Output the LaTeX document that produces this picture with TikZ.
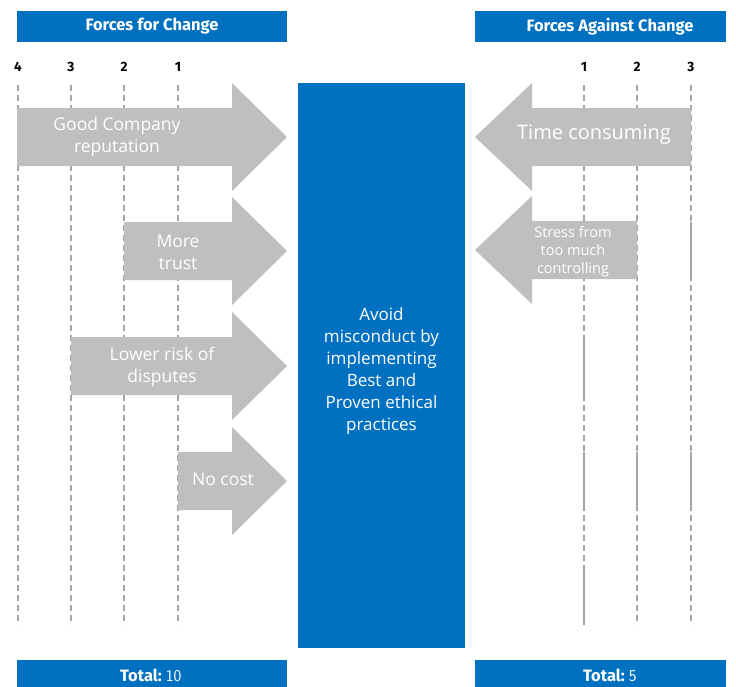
\documentclass[tikz,border=0pt]{standalone}
\usepackage{fontspec}
\setmainfont{Open Sans}
\newfontfamily\headfont{Fira Sans}
\definecolor{fieldblue}{RGB}{0,112,192}
\definecolor{forcegray}{RGB}{191,191,191}
\definecolor{scalegray}{RGB}{165,165,165}

% grey force arrow: tail x, centre y, start of head x, tip x
\newcommand{\forcearrow}[4]{%
  \fill[forcegray] (#1,#2-29) -- (#3,#2-29) -- (#3,#2-54) -- (#4,#2)
    -- (#3,#2+54) -- (#3,#2+29) -- (#1,#2+29) -- cycle;}

\begin{document}
\begin{tikzpicture}[
    x=1pt,y=-1pt,
    bar/.style={rectangle,fill=fieldblue,minimum width=270,minimum height=31,
      inner sep=0pt,text=white,font=\headfont\bfseries\fontsize{16.5}{18}\selectfont},
    total/.style={text=white,inner sep=0pt,anchor=west,
      font=\headfont\fontsize{16.5}{18}\selectfont},
    score/.style={font=\headfont\bfseries\fontsize{13.5}{15}\selectfont},
    scaleline/.style={draw=scalegray,line width=1.1pt,dash pattern=on 6pt off 4pt},
    goal/.style={rectangle,fill=fieldblue,minimum width=167,minimum height=565,
      inner sep=0pt},
    forcetext/.style={text=white,align=center,inner sep=0pt,
      font=\fontsize{17.5}{22}\selectfont}
  ]
    \useasboundingbox (0,0) rectangle (736,686);

    % headings and totals
    \node[bar] (forhead) at (152,26.5) {Forces for Change};
    \node[bar,minimum width=251] (againsthead) at (600.5,26.5) {};
    \node[text=white,font=\headfont\bfseries\fontsize{16.5}{18}\selectfont]
      (againsttitle) at (610,26.5) {Forces Against Change};
    \node[bar] (forfoot) at (152,675) {};
    \node[bar,minimum width=251] (againstfoot) at (600.5,675) {};
    \node[total] (fortotal) at (120,675) {\bfseries Total:\ \mdseries\sffamily 10};
    \node[total] (againsttotal) at (583,675) {\bfseries Total:\ \mdseries\sffamily 5};

    % score scale
    \foreach \x/\s in {18/4,71/3,124/2,178/1,584/1,637/2,691/3} {
      \node[score] (score\x) at (\x,67) {\s};
      \draw[scaleline] (\x,85) -- (\x,625);
    }
    \foreach \x/\ya/\yb in {584/335/395,584/452/510,584/567/625,
                            637/452/510,691/222/280,691/452/510}
      \draw[draw=scalegray,line width=1.1pt] (\x,\ya) -- (\x,\yb);

    % forces for change
    \forcearrow{17}{137}{232}{287}
    \forcearrow{124}{251}{232}{287}
    \forcearrow{71}{366}{232}{287}
    \forcearrow{178}{481}{232}{287}
    \node[forcetext] (reputation) at (117,137) {Good Company\\reputation};
    \node[forcetext] (trust) at (178,252) {More\\trust};
    \node[forcetext] (disputes) at (162,367) {Lower risk of\\disputes};
    \node[forcetext] (nocost) at (223,479) {No cost};

    % forces against change
    \forcearrow{691}{137}{532}{475}
    \forcearrow{637}{250}{532}{475}
    \node[forcetext,font=\fontsize{20}{22}\selectfont] (timecost) at (594,135) {Time consuming};
    \node[forcetext,font=\fontsize{14.5}{18}\selectfont] (stress) at (573,252)
      {Stress from\\too much\\controlling};

    % proposed change
    \node[goal] (goal) at (381.5,365.5) {};
    \node[forcetext,font=\fontsize{17}{22}\selectfont] (goaltext) at (381.5,371)
      {Avoid\\misconduct by\\implementing\\Best and\\Proven ethical\\practices};
\end{tikzpicture}
\end{document}
